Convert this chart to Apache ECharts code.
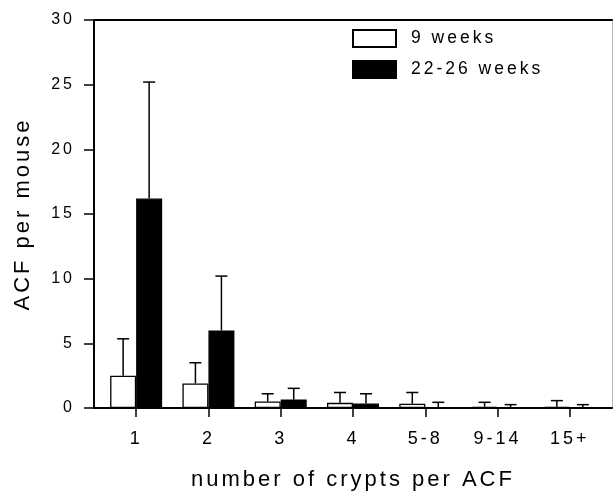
<!DOCTYPE html>
<html>
<head>
<meta charset="utf-8">
<script src="https://cdn.jsdelivr.net/npm/echarts@6/dist/echarts.min.js"></script>
<style>html,body{margin:0;padding:0;background:#fff}#c{width:613px;height:492px}</style>
</head>
<body>
<div id="c"></div>
<script>
const categories = ['1', '2', '3', '4', '5-8', '9-14', '15+'];
const seriesNames = ['9 weeks', '22-26 weeks'];
const mean9 = [2.5, 1.9, 0.5, 0.4, 0.33, 0.1, 0.1];
const err9 = [2.85, 1.6, 0.6, 0.8, 0.87, 0.34, 0.47];
const mean22 = [16.2, 6.0, 0.65, 0.35, 0.05, 0.03, 0.03];
const err22 = [9.0, 4.2, 0.87, 0.75, 0.39, 0.23, 0.23];
const yTicks = [0, 5, 10, 15, 20, 25, 30];

const FONT = '"Liberation Sans", Arial, Helvetica, sans-serif';
const BAR_W = 26;

function errData(means, errs) {
  return means.map((m, i) => [i, m, errs[i]]);
}
function errRender(offset) {
  return function (params, api) {
    const i = api.value(0), m = api.value(1), e = api.value(2);
    const p0 = api.coord([i, m]);
    const p1 = api.coord([i, m + e]);
    const x = p0[0] + offset;
    return {
      type: 'group',
      children: [
        { type: 'line', shape: { x1: x, y1: p0[1], x2: x, y2: p1[1] }, style: { stroke: '#000', lineWidth: 1.5 } },
        { type: 'line', shape: { x1: x - 6, y1: p1[1], x2: x + 6, y2: p1[1] }, style: { stroke: '#000', lineWidth: 1.5 } }
      ]
    };
  };
}

const option = {
  animation: false,
  backgroundColor: '#fff',
  textStyle: { fontFamily: FONT, color: '#000' },
  grid: [
    { left: 100, right: 7, top: 20, bottom: 84, containLabel: false, outerBoundsMode: 'none' },
    { left: 94, right: 1, top: 20, bottom: 84, containLabel: false, outerBoundsMode: 'none' }
  ],
  legend: {
    orient: 'vertical',
    left: 352,
    top: 29,
    padding: 0,
    itemWidth: 43,
    itemHeight: 17,
    itemGap: 12,
    icon: 'rect',
    data: seriesNames,
    textStyle: { fontFamily: FONT, fontSize: 17.5, color: '#000', padding: [0, 0, 0, 10] }
  },
  xAxis: [
    {
      type: 'category',
      gridIndex: 0,
      data: categories,
      axisLine: { show: false },
      axisTick: { show: true, alignWithLabel: true, length: 9, lineStyle: { color: '#000', width: 1.5 } },
      axisLabel: { fontFamily: FONT, fontSize: 18, color: '#000', margin: 22 },
      name: 'number of crypts per ACF',
      nameLocation: 'middle',
      nameGap: 61,
      nameTextStyle: { fontFamily: FONT, fontSize: 22, color: '#000' },
      splitLine: { show: false }
    },
    {
      type: 'value', gridIndex: 1, position: 'bottom', min: 0, max: 1,
      axisLine: { show: true, onZero: false, lineStyle: { color: '#000', width: 2 } },
      axisTick: { show: false }, axisLabel: { show: false }, splitLine: { show: false }
    },
    {
      type: 'value', gridIndex: 1, position: 'top', min: 0, max: 1,
      axisLine: { show: true, onZero: false, lineStyle: { color: '#000', width: 2 } },
      axisTick: { show: false }, axisLabel: { show: false }, splitLine: { show: false }
    }
  ],
  yAxis: [
    {
      type: 'value',
      gridIndex: 0,
      min: 0,
      max: 30,
      interval: 5,
      offset: 6,
      axisLine: { show: true, lineStyle: { color: '#000', width: 2 } },
      axisTick: { show: true, length: 10, lineStyle: { color: '#000', width: 1.5 } },
      axisLabel: { fontFamily: FONT, fontSize: 16, color: '#000', margin: 19,
        formatter: v => (yTicks.indexOf(v) >= 0 ? String(v) : '') },
      splitLine: { show: false },
      name: 'ACF per mouse',
      nameLocation: 'middle',
      nameGap: 60,
      nameTextStyle: { fontFamily: FONT, fontSize: 22, color: '#000' }
    },
    {
      type: 'value', gridIndex: 1, position: 'right', min: 0, max: 1,
      axisLine: { show: true, onZero: false, lineStyle: { color: '#bbb', width: 1 } },
      axisTick: { show: false }, axisLabel: { show: false }, splitLine: { show: false }
    }
  ],
  series: [
    {
      name: seriesNames[0], type: 'bar', xAxisIndex: 0, yAxisIndex: 0,
      data: mean9, barWidth: BAR_W, barGap: '0%',
      itemStyle: { color: '#fff', borderColor: '#000', borderWidth: 1.3 }
    },
    {
      name: seriesNames[1], type: 'bar', xAxisIndex: 0, yAxisIndex: 0,
      data: mean22, barWidth: BAR_W, barGap: '0%',
      itemStyle: { color: '#000', borderColor: '#000', borderWidth: 1.3 }
    },
    {
      type: 'custom', xAxisIndex: 0, yAxisIndex: 0, z: 3,
      renderItem: errRender(-BAR_W / 2), data: errData(mean9, err9)
    },
    {
      type: 'custom', xAxisIndex: 0, yAxisIndex: 0, z: 3,
      renderItem: errRender(BAR_W / 2), data: errData(mean22, err22)
    }
  ]
};

const chart = echarts.init(document.getElementById('c'), null, { renderer: 'canvas' });
chart.setOption(option);
try {
  const painter = chart.getZr().painter;
  const layers = painter.getLayers ? painter.getLayers() : {};
  let done = false;
  Object.keys(layers).forEach(k => {
    const ctx = layers[k].ctx;
    if (ctx && 'letterSpacing' in ctx) { ctx.letterSpacing = '3px'; done = true; }
  });
  if (done) chart.setOption(option, true);
} catch (e) {}
</script>
</body>
</html>
